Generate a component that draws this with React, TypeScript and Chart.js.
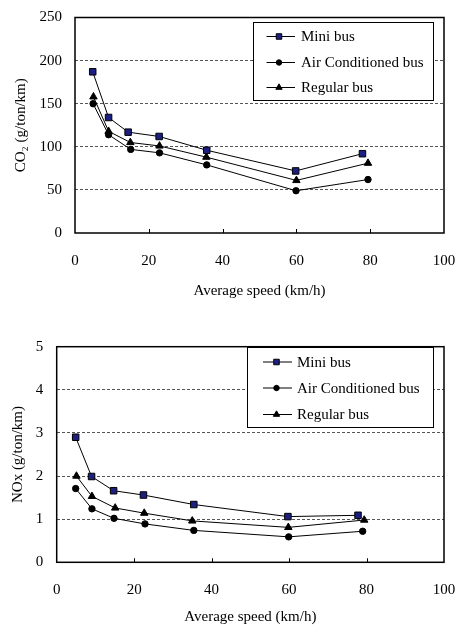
import React, { useEffect, useRef } from 'react';
import { Chart, registerables } from 'chart.js';
Chart.register(...registerables);

// ---------- Data ----------
const seriesLabels = ['Mini bus', 'Air Conditioned bus', 'Regular bus'];
const xTicks = [0, 20, 40, 60, 80, 100];

// CO2 (g/ton/km)
const co2MiniX = [4.8, 9.1, 14.4, 22.8, 35.7, 59.8, 77.9];
const co2MiniY = [187, 134, 117, 112, 96, 72, 92];
const co2AcX = [4.9, 9.1, 15.1, 22.9, 35.7, 59.9, 79.4];
const co2AcY = [150, 114, 97, 93, 79, 49, 62];
const co2RegX = [5.0, 9.1, 15.0, 22.9, 35.6, 60.0, 79.4];
const co2RegY = [158, 118, 105, 101, 88, 61, 81];

// NOx (g/ton/km)
const noxMiniX = [4.9, 9.0, 14.7, 22.4, 35.4, 59.7, 77.8];
const noxMiniY = [2.9, 1.99, 1.66, 1.56, 1.34, 1.06, 1.09];
const noxAcX = [4.9, 9.1, 14.8, 22.8, 35.4, 59.9, 79.0];
const noxAcY = [1.71, 1.24, 1.02, 0.89, 0.74, 0.59, 0.72];
const noxRegX = [5.1, 9.1, 15.1, 22.6, 35.0, 59.8, 79.4];
const noxRegY = [2.0, 1.53, 1.26, 1.14, 0.96, 0.81, 0.98];

// ---------- Styling ----------
const FONT_FAMILY = "'Liberation Serif', 'Times New Roman', serif";
const font = { family: FONT_FAMILY, size: 15 };
const NAVY = '#1c1f80';

const pts = (xs: number[], ys: number[]) => xs.map((x, i) => ({ x, y: ys[i] }));

function drawMarker(ctx: CanvasRenderingContext2D, style: string, x: number, y: number, r: number, fill: string, stroke: string) {
  ctx.beginPath();
  if (style === 'rect') {
    const s = Math.SQRT1_2 * r;
    ctx.rect(x - s, y - s, 2 * s, 2 * s);
  } else if (style === 'triangle') {
    ctx.moveTo(x, y - r);
    ctx.lineTo(x + r * Math.cos(Math.PI / 6), y + r / 2);
    ctx.lineTo(x - r * Math.cos(Math.PI / 6), y + r / 2);
    ctx.closePath();
  } else {
    ctx.arc(x, y, r, 0, Math.PI * 2);
  }
  ctx.fillStyle = fill;
  ctx.fill();
  ctx.strokeStyle = stroke;
  ctx.lineWidth = 1;
  ctx.stroke();
}

const boxLegend = {
  id: 'boxLegend',
  afterDatasetsDraw(chart: any, _args: any, opts: any) {
    const { ctx } = chart;
    const { x, y, w, h, rows, lineX0, lineX1, markX, textX } = opts;
    ctx.save();
    ctx.fillStyle = '#fff';
    ctx.fillRect(x, y, w, h);
    ctx.strokeStyle = '#000';
    ctx.lineWidth = 1;
    ctx.strokeRect(Math.round(x) + 0.5, Math.round(y) + 0.5, Math.round(w), Math.round(h));
    chart.data.datasets.forEach((ds: any, i: number) => {
      const ry = y + rows[i];
      ctx.beginPath();
      ctx.moveTo(x + lineX0, ry);
      ctx.lineTo(x + lineX1, ry);
      ctx.strokeStyle = '#000';
      ctx.lineWidth = 1;
      ctx.stroke();
      drawMarker(ctx, ds.pointStyle, x + markX, ry, ds.pointRadius * 0.85, ds.pointBackgroundColor, ds.pointBorderColor);
      ctx.fillStyle = '#000';
      ctx.font = `15px ${FONT_FAMILY}`;
      ctx.textBaseline = 'middle';
      ctx.textAlign = 'left';
      ctx.fillText(ds.label, x + textX, ry + 1);
    });
    ctx.restore();
  },
};

const frame = {
  id: 'frame',
  beforeDatasetsDraw(chart: any) {
    const { ctx, chartArea: a, scales } = chart;
    ctx.save();
    ctx.strokeStyle = '#000';
    ctx.lineWidth = 1.5;
    ctx.strokeRect(a.left, a.top, a.right - a.left, a.bottom - a.top);
    ctx.lineWidth = 1;
    scales.x.ticks.forEach((t: any) => {
      if (t.value <= 0 || t.value >= 100) return;
      const px = Math.round(scales.x.getPixelForValue(t.value)) + 0.5;
      ctx.beginPath();
      ctx.moveTo(px, a.bottom);
      ctx.lineTo(px, a.bottom - 4);
      ctx.stroke();
    });
    ctx.restore();
  },
};

function makeDatasets(miniX: number[], miniY: number[], acX: number[], acY: number[], regX: number[], regY: number[]) {
  const base = { borderColor: '#000', borderWidth: 1, pointBorderColor: '#000', pointBorderWidth: 1, showLine: true, tension: 0 };
  return [
    { ...base, label: seriesLabels[0], data: pts(miniX, miniY), pointStyle: 'rect', pointRadius: 4.6, pointBackgroundColor: NAVY },
    { ...base, label: seriesLabels[1], data: pts(acX, acY), pointStyle: 'circle', pointRadius: 3.2, pointBackgroundColor: '#000' },
    { ...base, label: seriesLabels[2], data: pts(regX, regY), pointStyle: 'triangle', pointRadius: 4.3, pointBackgroundColor: '#000' },
  ];
}

const zeroPad = (s: any) => {
  s.paddingLeft = 0;
  s.paddingRight = 0;
  s.paddingTop = 0;
  s.paddingBottom = 0;
};

function makeConfig(p: any): any {
  return {
    type: 'scatter',
    data: { datasets: p.datasets },
    options: {
      responsive: false,
      maintainAspectRatio: false,
      animation: false,
      layout: { padding: { top: p.padTop, right: p.padRight, left: 0, bottom: 0 } },
      plugins: {
        legend: { display: false },
        tooltip: { enabled: false },
        boxLegend: p.legend,
      },
      scales: {
        x: {
          type: 'linear',
          min: 0,
          max: 100,
          afterBuildTicks: (s: any) => { s.ticks = xTicks.map((v) => ({ value: v })); },
          ticks: { font, color: '#000', padding: p.xTickPad, maxRotation: 0 },
          grid: { display: false, drawTicks: false },
          border: { display: false },
          title: { display: true, text: 'Average speed (km/h)', font, color: '#000', padding: { top: 0, bottom: p.xTitlePad } },
          afterFit: (s: any) => { s.height = p.xHeight; zeroPad(s); },
        },
        y: {
          type: 'linear',
          min: 0,
          max: p.yMax,
          afterBuildTicks: (s: any) => { s.ticks = p.yTicks.map((v: number) => ({ value: v })); },
          ticks: { font, color: '#000', padding: p.yTickPad },
          grid: {
            drawTicks: false,
            lineWidth: 1,
            color: (c: any) => (c.tick && (c.tick.value === 0 || c.tick.value === p.yMax) ? 'rgba(0,0,0,0)' : '#555'),
          },
          border: { display: false, dash: [3, 2] },
          title: { display: true, text: p.yTitle, font, color: '#000', padding: { top: p.yTitlePad, bottom: 0 } },
          afterFit: (s: any) => { s.width = p.yWidth; zeroPad(s); },
        },
      },
    },
    plugins: [frame, boxLegend],
  };
}

// ---------- Axis ticks ----------
const co2Ticks = [0, 50, 100, 150, 200, 250];
const noxTicks = [0, 1, 2, 3, 4, 5];

const topConfig = () =>
  makeConfig({
    datasets: makeDatasets(co2MiniX, co2MiniY, co2AcX, co2AcY, co2RegX, co2RegY),
    padTop: 17.5,
    padRight: 22,
    xHeight: 77,
    yWidth: 75,
    xTickPad: 19,
    xTitlePad: 10,
    yTickPad: 13,
    yTitlePad: 12,
    yMax: 250,
    yTicks: co2Ticks,
    yTitle: 'CO\u2082 (g/ton/km)',
    legend: { x: 253, y: 22, w: 180, h: 78, rows: [14.5, 40.5, 65.5], lineX0: 13.5, lineX1: 42, markX: 26, textX: 48 },
  });

const bottomConfig = () =>
  makeConfig({
    datasets: makeDatasets(noxMiniX, noxMiniY, noxAcX, noxAcY, noxRegX, noxRegY),
    padTop: 26.7,
    padRight: 22,
    xHeight: 63.7,
    yWidth: 56.7,
    xTickPad: 18.5,
    xTitlePad: 0,
    yTickPad: 13.4,
    yTitlePad: 9,
    yMax: 5,
    yTicks: noxTicks,
    yTitle: 'NOx (g/ton/km)',
    legend: { x: 247, y: 27, w: 186, h: 80, rows: [15, 41, 67.5], lineX0: 16, lineX1: 45, markX: 29.5, textX: 50 },
  });

function Panel({ config, top, height }: { config: () => any; top: number; height: number }) {
  const ref = useRef<HTMLCanvasElement>(null);
  useEffect(() => {
    const chart = new Chart(ref.current as HTMLCanvasElement, config());
    return () => chart.destroy();
  }, []);
  return (
    <canvas
      ref={ref}
      width={466}
      height={height}
      style={{ position: 'absolute', left: 0, top, width: 466, height, display: 'block' }}
    />
  );
}

export default function App() {
  return (
    <div style={{ position: 'absolute', left: 0, top: 0, width: 466, height: 626, background: '#fff', overflow: 'hidden' }}>
      <Panel config={topConfig} top={0} height={310} />
      <Panel config={bottomConfig} top={320} height={306} />
    </div>
  );
}
